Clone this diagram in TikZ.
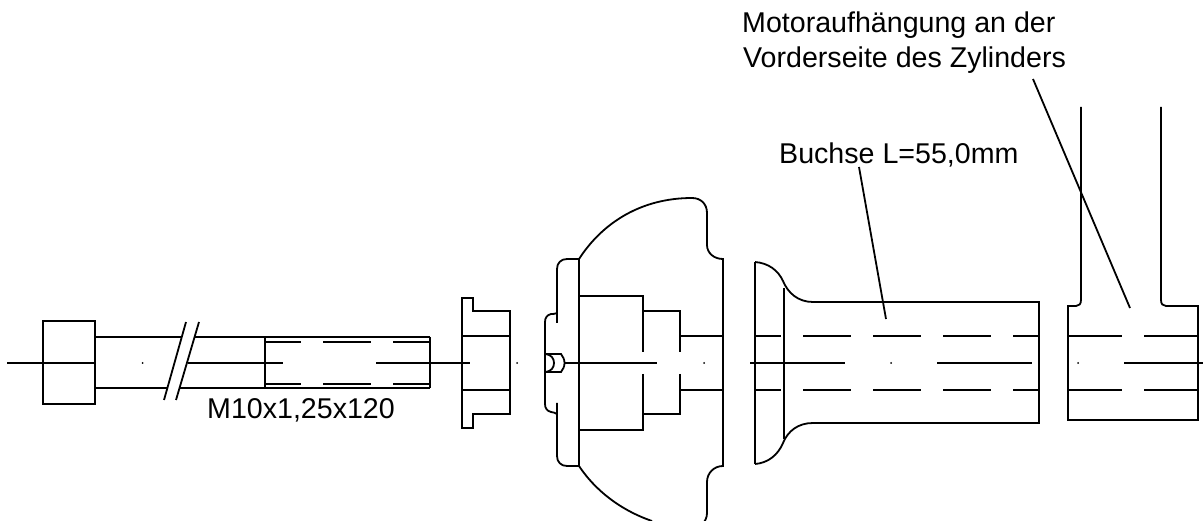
\documentclass[tikz,border=0pt]{standalone}
\usepackage{fontspec}
\setmainfont{Liberation Sans}
\tikzset{
  ln/.style={line width=1.8pt,line cap=butt,line join=miter,draw=black},
  lbl/.style={inner sep=0pt,font=\fontsize{28.6}{33}\selectfont,anchor=base west},
  pt/.style={circle,fill=black,inner sep=0pt,minimum size=2pt}
}
\begin{document}
\begin{tikzpicture}[x=1pt,y=-1pt]
\useasboundingbox (0,0) rectangle (1203,521);
\begin{scope}
\clip (0,0) rectangle (1203,521);
\begin{scope}[ln]
% bolt
\draw (43,321) rectangle (95,404);
\draw (95,337) -- (182,337) (195,337) -- (430,337);
\draw (95,388) -- (167,388) (180,388) -- (430,388);
\draw (265,337) -- (265,388) (430,337) -- (430,388);
\draw (186,322) -- (164,400) (199,322) -- (176,400);
\draw (7,363) -- (96,363) (188,363) -- (283,363) (376,363) -- (470,363);
\foreach \yy in {342,384} \draw (265,\yy) -- (301,\yy) (323,\yy) -- (371,\yy) (393,\yy) -- (430,\yy);
% sleeve
\draw (510,336) -- (510,311) -- (473,311) -- (473,298) -- (462,298) -- (462,428) -- (473,428) -- (473,414) -- (510,414) -- cycle;
\draw (462,336) -- (510,336) (462,390) -- (510,390);
% hub
\draw (579,259) -- (579,466);
\draw (579,259) -- (567,259) .. controls (561,259) and (557,263) .. (557,269) -- (557,323);
\draw (579,466) -- (567,466) .. controls (561,466) and (557,462) .. (557,456) -- (557,403);
\draw (557,313) .. controls (555,314) and (553,314) .. (551,314) .. controls (547,315) and (545,318) .. (545,322) -- (545,404) .. controls (545,408) and (547,411) .. (551,412) .. controls (553,412) and (555,413) .. (557,414);
\draw (579,259) .. controls (603,222) and (642,198) .. (692,198) .. controls (701,198) and (707,204) .. (707,213) -- (707,245) .. controls (707,253) and (714,259) .. (723,259) -- (723,466) .. controls (714,466) and (707,473) .. (707,482) -- (707,513) .. controls (707,518) and (705,521) .. (702,525);
\draw (579,466) .. controls (595,490) and (620,510) .. (652,521);
\draw (579,296) -- (643,296) -- (643,352) (643,374) -- (643,430) -- (579,430);
\draw (643,311) -- (680,311) -- (680,352) (680,374) -- (680,414) -- (643,414);
\draw (680,336) -- (723,336) (680,390) -- (723,390);
\draw (565,363) -- (657,363);
\draw (545,354) -- (561,354) .. controls (563,357) and (564.5,359) .. (564.5,363) .. controls (564.5,367) and (563,369) .. (561,372) -- (545,372);
\draw (546,354) .. controls (551,355) and (554,358) .. (554,363) .. controls (554,368) and (551,371) .. (546,372);
% bush
\draw (755,262) -- (755,464);
\draw (755,262) .. controls (768,263) and (778,270) .. (783,281) .. controls (788,293) and (798,302) .. (813,302) -- (1039,302) -- (1039,423) -- (813,423) .. controls (798,423) and (788,431) .. (783,443) .. controls (778,455) and (768,463) .. (755,464);
\draw (784,288) -- (784,439);
\foreach \yy in {336,390} \draw (755,\yy) -- (781,\yy) (803,\yy) -- (851,\yy) (873,\yy) -- (921,\yy) (943,\yy) -- (991,\yy) (1013,\yy) -- (1039,\yy);
\draw (750,363) -- (845,363) (937,363) -- (1032,363);
% cylinder
\draw (1081,107) -- (1081,300) .. controls (1081,304) and (1079,306) .. (1076,306) -- (1068,306) -- (1068,420) -- (1198,420) -- (1198,306) -- (1166,306) .. controls (1163,306) and (1161,304) .. (1161,300) -- (1161,107);
\foreach \yy in {336,390} \draw (1068,\yy) -- (1122,\yy) (1144,\yy) -- (1198,\yy);
\draw (1124,363) -- (1203,363);
% leaders
\coordinate (bt) at (859,167); \coordinate (be) at (886,319);
\coordinate (mt) at (1033,79); \coordinate (me) at (1130,308);
\draw (bt) -- (be);
\draw (mt) -- (me);
\end{scope}
\end{scope}
\node[pt] (d1) at (142.5,363) {};
\node[pt] (d2) at (517,363) {};
\node[pt] (d3) at (704,363) {};
\node[pt] (d4) at (891,363) {};
\node[pt] (d5) at (1078,363) {};
\node[lbl] (t1) at (742,33) {Motoraufhängung an der};
\node[lbl] (t2) at (743,68) {Vorderseite des Zylinders};
\node[lbl] (t3) at (779,164) {Buchse L=55,0mm};
\node[lbl] (t4) at (207,418) {M10x1,25x120};
\end{tikzpicture}
\end{document}
